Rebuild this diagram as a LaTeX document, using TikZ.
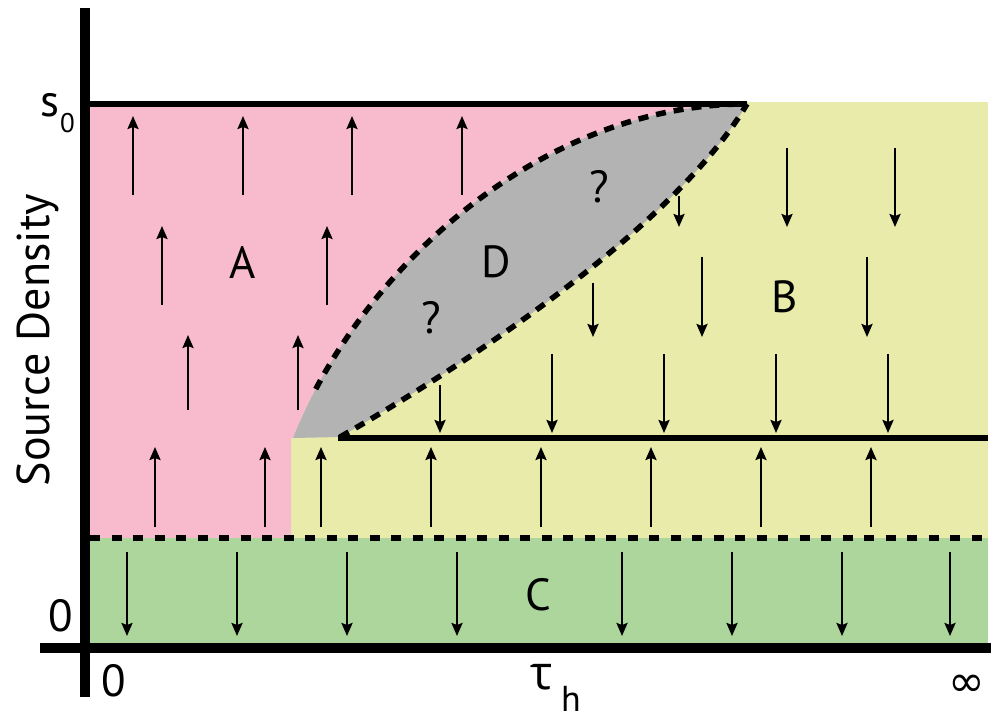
\documentclass[tikz,border=0pt]{standalone}
\usepackage{fontspec}
\setmainfont{PT Sans}
\newfontfamily\grk{Open Sans}
\newfontfamily\sym{DejaVu Sans}
\usetikzlibrary{arrows.meta}
\definecolor{pinkA}{RGB}{247,187,205}
\definecolor{yelB}{RGB}{233,235,170}
\definecolor{greenC}{RGB}{173,214,157}
\definecolor{grayD}{RGB}{179,179,179}
\begin{document}
\begin{tikzpicture}[x=1pt,y=-1pt,
  lbl/.style={font=\fontsize{45}{48}\selectfont, inner sep=0pt},
  fa/.style={line width=2.3pt,-{Stealth[length=13pt,width=11pt,inset=2pt]}},
  dsh/.style={line width=5.5pt,dash pattern=on 10pt off 8pt},
  hdsh/.style={line width=5.5pt,dash pattern=on 10pt off 11.5pt},
  solid5/.style={line width=5.5pt},
  axis/.style={line width=10.5pt},
  ]
\useasboundingbox (0,0) rectangle (991,719);
% region fills
\fill[yelB] (291,102) rectangle (988,538);
\fill[pinkA] (90,104) -- (747,104) .. controls (540,104) and (360,270) .. (293,438) -- (291,438) -- (291,538) -- (90,538) -- cycle;
\fill[grayD] (293,438) .. controls (360,270) and (540,104) .. (747,104) .. controls (670,235) and (440,380) .. (340,437) -- cycle;
\fill[greenC] (90,538) rectangle (988,643);
% field arrows, region A (up)
\foreach \x in {133,243,352,462} \draw[fa] (\x,195) -- (\x,116);
\foreach \x in {162,327} \draw[fa] (\x,305) -- (\x,226);
\foreach \x in {188,298} \draw[fa] (\x,410) -- (\x,335);
% lower up row
\foreach \x in {155,265,321,431,541,651,761,871} \draw[fa] (\x,527) -- (\x,447);
% region B (down)
\draw[fa] (440,385) -- (440,433);
\foreach \x in {552,664,776,888} \draw[fa] (\x,354) -- (\x,433);
\draw[fa] (593,283) -- (593,337);
\foreach \x in {702,867} \draw[fa] (\x,257) -- (\x,337);
\draw[fa] (679,196) -- (679,227);
\foreach \x in {787,895} \draw[fa] (\x,148) -- (\x,227);
% region C (down)
\foreach \x in {127,237,347,457,622,732,842,950} \draw[fa] (\x,552) -- (\x,636);
% boundaries
\begin{scope}
\clip (0,0) rectangle (991,392);
\draw[dsh] (293,438) .. controls (360,270) and (540,104) .. (747,104);
\end{scope}
\draw[dsh] (340,437) .. controls (440,380) and (670,235) .. (747,104);
\draw[hdsh] (90,538) -- (991,538);
\draw[solid5] (85,104) -- (747,104);
\draw[solid5] (338,438) -- (988,438);
% axes
\draw[axis] (85,8) -- (85,697);
\draw[axis] (40,648) -- (991,648);
% labels
\node[lbl] (A) at (243,263) {A};
\node[lbl] (B) at (785,297) {B};
\node[lbl] (C) at (538,595) {C};
\node[lbl] (D) at (496,262) {D};
\node[lbl] (q1) at (599,187) {?};
\node[lbl] (q2) at (431,318) {?};
\node[lbl] (zy) at (61,616) {0};
\node[lbl] (zx) at (114,681) {0};
\node[lbl, anchor=base west] (s) at (40,117) {s};
\node[inner sep=0pt, anchor=base west, font=\fontsize{27}{28}\selectfont] (sub0) at (60,133) {0};
\node[inner sep=0pt, rotate=90, anchor=base, font=\fontsize{46}{50}\selectfont] (ylab) at (49,340) {Source Density};
\node[inner sep=0pt, anchor=base west, font=\grk\fontsize{47}{50}\selectfont] (tau) at (530,689) {τ};
\node[inner sep=0pt, anchor=base west, font=\fontsize{36}{40}\selectfont] (h) at (561,711) {h};
\node[inner sep=0pt, font=\sym\fontsize{44}{46}\selectfont] (inf) at (967,686) {∞};
\end{tikzpicture}
\end{document}
